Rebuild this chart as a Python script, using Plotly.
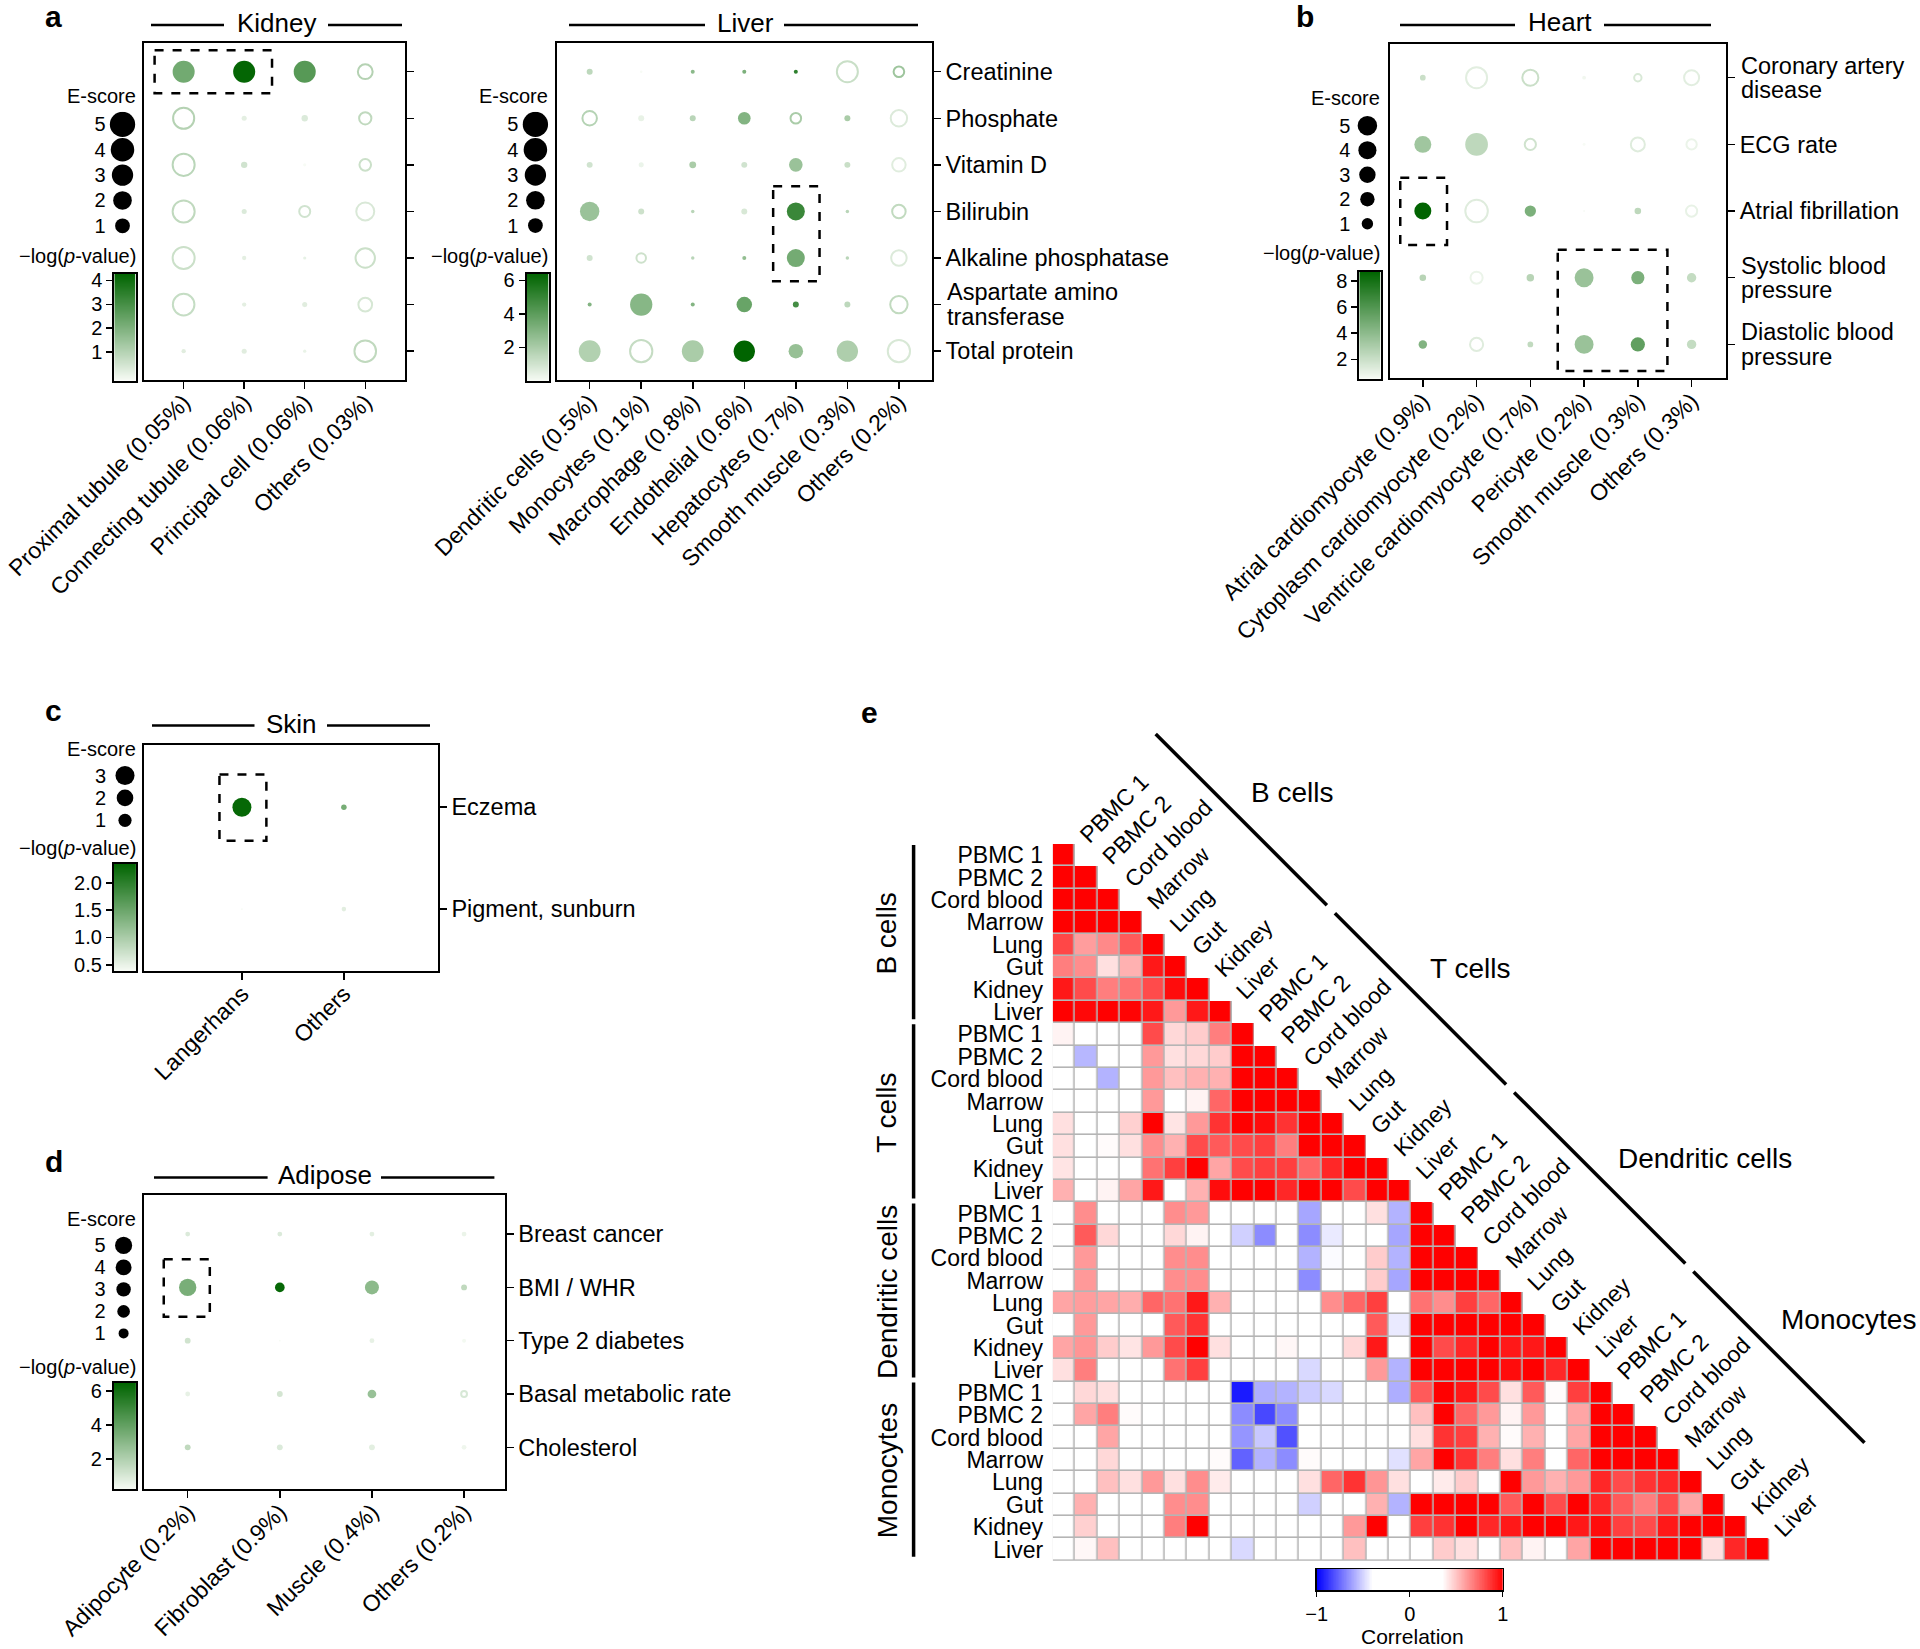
import numpy as np
import plotly.graph_objects as go

W, H = 1920, 1649
FONT = "Liberation Sans, Arial, Helvetica, sans-serif"

# ---------------- data: dot plots (E-score signed: negative = open ring) ----------------
KID_CELLS = ["Proximal tubule (0.05%)", "Connecting tubule (0.06%)", "Principal cell (0.06%)", "Others (0.03%)"]
LIV_CELLS = ["Dendritic cells (0.5%)", "Monocytes (0.1%)", "Macrophage (0.8%)", "Endothelial (0.6%)",
             "Hepatocytes (0.7%)", "Smooth muscle (0.3%)", "Others (0.2%)"]
LIV_TRAITS = ["Creatinine", "Phosphate", "Vitamin D", "Bilirubin", "Alkaline phosphatase",
              "Aspartate amino<br>transferase", "Total protein"]

KID_E = [
    [3.3, 3.3, 3.3, -1.0],
    [-2.9, 0.04, 0.08, -0.57],
    [-3.3, 0.08, 0.01, -0.48],
    [-3.3, 0.04, -0.41, -1.8],
    [-3.3, 0.025, 0.01, -2.25],
    [-3.1, 0.025, 0.04, -0.8],
    [0.025, 0.04, 0.01, -3.1],
]
KID_P = [
    [2.2, 4.2, 2.7, 1.0],
    [1.0, 0.15, 0.3, 0.8],
    [0.9, 0.5, -0.2, 0.6],
    [0.8, 0.3, 0.5, 0.35],
    [0.6, 0.15, 0.1, 0.6],
    [0.7, 0.15, 0.2, 0.4],
    [0.2, 0.2, 0.05, 0.8],
]
LIV_E = [
    [0.066, 0.005, 0.02, 0.02, 0.02, -2.86, -0.37],
    [-0.94, 0.066, 0.066, 0.62, -0.37, 0.066, -1.36],
    [0.066, 0.04, 0.1, 0.066, 0.78, 0.066, -0.76],
    [2.25, 0.066, 0.013, 0.066, 1.8, 0.013, -0.76],
    [0.066, -0.27, 0.013, 0.02, 1.8, 0.013, -1.15],
    [0.02, 3.42, 0.02, 1.15, 0.066, 0.066, -1.62],
    [3.2, -3.4, 3.2, 2.98, 0.94, 2.98, -3.4],
]
LIV_P = [
    [1.5, 0.0, 2.8, 3.2, 5.2, 1.2, 2.3],
    [1.7, 0.4, 1.6, 3.0, 2.0, 2.0, 0.7],
    [1.0, 0.3, 2.0, 1.0, 2.4, 1.2, 0.6],
    [2.4, 1.1, 1.6, 0.8, 4.9, 1.6, 1.4],
    [1.0, 1.1, 1.6, 2.6, 3.4, 1.6, 0.7],
    [3.0, 2.9, 3.0, 3.7, 4.6, 1.5, 1.4],
    [1.8, 1.3, 2.0, 6.4, 2.5, 1.9, 0.8],
]

HRT_CELLS = ["Atrial cardiomyocyte (0.9%)", "Cytoplasm cardiomyocyte (0.2%)", "Ventricle cardiomyocyte (0.7%)",
             "Pericyte (0.2%)", "Smooth muscle (0.3%)", "Others (0.3%)"]
HRT_TRAITS = ["Coronary artery<br>disease", "ECG rate", "Atrial fibrillation",
              "Systolic blood<br>pressure", "Diastolic blood<br>pressure"]
HRT_E = [
    [0.125, -6.3, -2.8, 0.037, -0.27, -2.3],
    [3.3, 7.9, -0.95, 0.018, -1.85, -0.74],
    [3.3, -7.7, 0.97, 0.005, 0.19, -0.95],
    [0.19, -1.22, 0.28, 4.55, 1.55, 0.56],
    [0.41, -1.52, 0.125, 4.55, 1.93, 0.56],
]
HRT_P = [
    [2.0, 1.2, 2.0, 0.7, 1.5, 1.2],
    [3.4, 2.4, 1.8, 0.5, 1.3, 0.9],
    [8.7, 1.3, 4.6, 0.5, 2.4, 1.0],
    [2.6, 0.9, 2.6, 3.6, 4.6, 2.2],
    [4.4, 1.3, 2.3, 3.6, 5.5, 2.2],
]

SKN_CELLS = ["Langerhans", "Others"]
SKN_TRAITS = ["Eczema", "Pigment, sunburn"]
SKN_E = [[2.98, 0.072], [0.003, 0.04]]
SKN_P = [[2.3, 1.4], [0.38, 0.55]]

ADI_CELLS = ["Adipocyte (0.2%)", "Fibroblast (0.9%)", "Muscle (0.4%)", "Others (0.2%)"]
ADI_TRAITS = ["Breast cancer", "BMI / WHR", "Type 2 diabetes", "Basal metabolic rate", "Cholesterol"]
ADI_E = [
    [0.11, 0.11, 0.11, 0.11],
    [5.2, 0.91, 2.74, 0.2],
    [0.2, 0.005, 0.11, 0.06],
    [0.11, 0.2, 0.66, -0.2],
    [0.2, 0.2, 0.2, 0.11],
]
ADI_P = [
    [0.9, 0.9, 0.7, 0.5],
    [3.4, 6.3, 2.9, 1.6],
    [1.2, 0.2, 0.6, 0.3],
    [0.6, 1.1, 2.6, 1.0],
    [1.6, 0.9, 0.7, 0.4],
]

# ---------------- data: correlation heatmap (lower triangle, row by row) ----------------
HM_GROUPS = ["B cells", "T cells", "Dendritic cells", "Monocytes"]
HM_TISSUES = ["PBMC 1", "PBMC 2", "Cord blood", "Marrow", "Lung", "Gut", "Kidney", "Liver"]
CORR = [
    [1.0],
    [1.0, 1.0],
    [1.0, 1.0, 1.0],
    [1.0, 1.0, 1.0, 1.0],
    [0.82, 0.60, 0.65, 0.77, 1.0],
    [0.68, 0.64, 0.43, 0.55, 0.94, 1.0],
    [0.94, 0.81, 0.68, 0.71, 0.81, 0.97, 1.0],
    [1.0, 0.98, 1.0, 0.99, 0.94, 0.61, 0.94, 1.0],
    [0.38, 0.1, 0.05, 0.08, 0.81, 0.45, 0.48, 0.68, 1.0],
    [0.12, -0.57, 0.1, 0.06, 0.61, 0.43, 0.45, 0.48, 1.0, 1.0],
    [0.08, 0.05, -0.58, 0.1, 0.61, 0.51, 0.55, 0.55, 1.0, 1.0, 1.0],
    [0.02, 0.05, 0.1, 0.08, 0.61, 0.2, 0.38, 0.74, 1.0, 1.0, 1.0, 1.0],
    [0.43, 0.1, 0.15, 0.47, 1.0, 0.42, 0.61, 0.87, 1.0, 0.97, 0.87, 1.0, 1.0],
    [0.43, 0.1, 0.36, 0.43, 0.64, 0.55, 0.81, 0.77, 0.81, 0.84, 0.68, 1.0, 1.0, 1.0],
    [0.42, 0.1, 0.05, 0.1, 0.71, 0.84, 1.0, 0.58, 0.81, 0.84, 0.84, 0.74, 0.9, 1.0, 1.0],
    [0.55, 0.1, 0.38, 0.58, 0.94, 0.1, 0.55, 0.97, 1.0, 1.0, 0.9, 1.0, 1.0, 0.81, 1.0, 1.0],
    [0.05, 0.64, 0.1, 0.05, 0.1, 0.64, 0.61, 0.1, 0.0, 0.05, 0.1, -0.61, 0.1, 0.05, 0.43, -0.58, 1.0],
    [0.05, 0.77, 0.45, 0.1, 0.05, 0.45, 0.38, 0.1, -0.51, -0.67, 0.0, -0.67, -0.45, 0.1, 0.05, -0.61, 1.0, 1.0],
    [0.05, 0.61, 0.1, 0.05, 0.1, 0.64, 0.64, 0.1, 0.05, 0.0, 0.1, -0.58, -0.41, 0.1, 0.48, -0.58, 1.0, 1.0, 1.0],
    [0.05, 0.61, 0.1, 0.05, 0.1, 0.64, 0.64, 0.1, 0.05, 0.0, 0.1, -0.67, 0.1, 0.05, 0.48, -0.61, 1.0, 1.0, 1.0, 1.0],
    [0.58, 0.6, 0.58, 0.56, 0.74, 0.71, 0.94, 0.55, 0.1, 0.05, 0.1, 0.0, 0.64, 0.74, 0.84, 0.1, 0.71, 0.64, 0.84, 0.74, 1.0],
    [0.05, 0.61, 0.1, 0.05, 0.1, 0.77, 0.87, 0.1, 0.05, 0.0, 0.1, 0.05, 0.1, 0.05, 0.77, -0.45, 1.0, 1.0, 1.0, 1.0, 1.0, 1.0],
    [0.58, 0.62, 0.48, 0.42, 0.61, 0.81, 1.0, 0.43, 0.05, 0.0, 0.37, 0.1, 0.05, 0.45, 0.94, 0.1, 1.0, 0.81, 0.9, 1.0, 0.94, 0.94, 1.0],
    [0.43, 0.68, 0.1, 0.05, 0.1, 0.71, 0.84, 0.1, 0.05, 0.0, 0.1, -0.49, 0.1, 0.05, 0.61, -0.58, 1.0, 1.0, 1.0, 1.0, 0.97, 1.0, 0.9, 1.0],
    [0.05, 0.45, 0.43, 0.1, 0.05, 0.1, 0.05, 0.0, -0.94, -0.59, -0.58, -0.52, -0.49, 0.1, 0.05, -0.59, 0.77, 1.0, 0.94, 0.81, 0.43, 0.77, 0.36, 0.84, 1.0],
    [0.05, 0.58, 0.68, 0.36, 0.1, 0.05, 0.1, 0.0, -0.67, -0.83, -0.67, 0.1, 0.05, 0.1, 0.0, 0.1, 0.51, 1.0, 0.74, 0.61, 0.38, 0.61, 0.1, 0.58, 1.0, 1.0],
    [0.05, 0.1, 0.58, 0.05, 0.1, 0.0, 0.05, 0.1, -0.65, -0.53, -0.81, 0.05, 0.1, 0.05, 0.0, 0.1, 0.43, 0.87, 0.84, 0.55, 0.36, 0.55, 0.05, 0.58, 1.0, 1.0, 1.0],
    [0.05, 0.1, 0.45, 0.05, 0.1, 0.0, 0.05, 0.36, -0.77, -0.58, -0.67, 0.36, 0.1, 0.05, 0.0, -0.47, 0.58, 1.0, 0.87, 0.68, 0.43, 0.68, 0.1, 0.74, 1.0, 1.0, 1.0, 1.0],
    [0.05, 0.1, 0.51, 0.43, 0.61, 0.43, 0.64, 0.4, 0.05, 0.0, 0.1, 0.43, 0.74, 0.87, 0.62, 0.43, 0.1, 0.4, 0.48, 0.05, 1.0, 0.61, 0.55, 0.61, 0.9, 0.81, 0.87, 0.9, 1.0],
    [0.05, 0.55, 0.1, 0.05, 0.1, 0.64, 0.64, 0.05, 0.1, 0.0, 0.05, -0.51, 0.1, 0.05, 0.55, -0.58, 1.0, 1.0, 1.0, 1.0, 0.77, 1.0, 0.81, 1.0, 0.9, 0.77, 0.68, 0.81, 0.58, 1.0],
    [0.05, 0.47, 0.1, 0.05, 0.1, 0.68, 1.0, 0.1, 0.05, 0.0, 0.1, 0.05, 0.1, 0.61, 1.0, 0.05, 0.84, 0.87, 1.0, 0.9, 0.94, 1.0, 1.0, 0.94, 0.97, 0.84, 0.81, 0.94, 1.0, 1.0, 1.0],
    [0.05, 0.37, 0.51, 0.1, 0.05, 0.0, 0.1, 0.05, -0.49, 0.1, 0.05, 0.0, 0.1, 0.51, 0.05, 0.1, 0.05, 0.48, 0.43, 0.1, 0.51, 0.38, 0.05, 0.58, 1.0, 1.0, 1.0, 1.0, 1.0, 0.43, 0.9, 1.0],
]
CB_TICKS = [-1, 0, 1]
CB_TEXT = ["\u22121", "0", "1"]

# ---------------- styles ----------------
GREEN = [[0, "#f7fbf5"], [1, "#006400"]]
RDBU = [[0, "#0000ff"], [0.3, "#ffffff"], [0.675, "#ffffff"], [1, "#ff0000"]]


def fx(px):
    return px / W


def fy(py):
    return 1 - py / H


fig = go.Figure()
layout = {}
annotations = []
shapes = []
count = [0]


def new_axes(x0, x1, y0, y1, xkw, ykw):
    count[0] += 1
    n = count[0]
    sx = "" if n == 1 else str(n)
    layout["xaxis" + sx] = dict(domain=[fx(x0), fx(x1)], anchor="y" + sx, automargin=False, **xkw)
    layout["yaxis" + sx] = dict(domain=[fy(y1), fy(y0)], anchor="x" + sx, automargin=False, **ykw)
    return "x" + sx, "y" + sx


def text(t, x, y, size=20, xa="center", ya="middle", angle=0, bold=False):
    if bold:
        t = "<b>" + t + "</b>"
    annotations.append(dict(text=t, x=fx(x), y=fy(y), xref="paper", yref="paper", showarrow=False,
                            xanchor=xa, yanchor=ya, textangle=angle, font=dict(size=size, family=FONT, color="black")))


def pline(x0, y0, x1, y1, w=2.5, dash=None):
    shapes.append(dict(type="line", xref="paper", yref="paper", x0=fx(x0), y0=fy(y0), x1=fx(x1), y1=fy(y1),
                       line=dict(color="black", width=w, dash=dash)))


def dot_panel(cells, traits, E, P, box, xrng, yrng, crng, d1, ylabels=True):
    x0, x1, y0, y1 = box
    base = dict(showline=True, linewidth=2, linecolor="black", mirror=True, showgrid=False, zeroline=False,
                ticks="outside", ticklen=7, tickwidth=1.5, tickcolor="black")
    # multi-line trait names are written as separate lines (tighter line spacing)
    ticktext = [("" if "<br>" in t else t) if ylabels else "" for t in traits]
    xr, yr = new_axes(x0, x1, y0, y1,
                      dict(type="category", categoryorder="array", categoryarray=cells, range=xrng,
                           tickangle=-45, tickfont=dict(size=23), ticklabelstandoff=-9, **base),
                      dict(type="category", categoryorder="array", categoryarray=traits, range=yrng,
                           tickvals=traits, ticktext=ticktext,
                           side="right", tickfont=dict(size=23.5), **base))
    if ylabels:
        for i, t in enumerate(traits):
            if "<br>" in t:
                parts = t.split("<br>")
                for k, part in enumerate(parts):
                    annotations.append(dict(text=part, xref=xr + " domain", yref=yr, x=1, y=i,
                                            xanchor="left", yanchor="middle", xshift=13,
                                            yshift=12.2 * (len(parts) - 1) - 24.4 * k, showarrow=False,
                                            font=dict(size=23.5, family=FONT, color="black")))
    xs, ys, sz, col, sym, lw = [], [], [], [], [], []
    for i, t in enumerate(traits):
        for j, c in enumerate(cells):
            e = E[i][j]
            xs.append(c)
            ys.append(t)
            sz.append(d1 * abs(e) ** (1 / 3))
            col.append(P[i][j])
            sym.append("circle" if e > 0 else "circle-open")
            lw.append(0 if e > 0 else 2)
    fig.add_trace(go.Scatter(x=xs, y=ys, mode="markers", xaxis=xr, yaxis=yr, showlegend=False, hoverinfo="skip",
                             marker=dict(size=sz, color=col, colorscale=GREEN, cmin=crng[0], cmax=crng[1],
                                         symbol=sym, line=dict(width=lw), opacity=1)))
    return xr, yr


def escore_legend(vals, xc, ytop, ybot, d1, halfw=16):
    step = (ybot - ytop) / (max(vals) - min(vals))
    xr, yr = new_axes(xc - halfw, xc + halfw, ytop - step / 2, ybot + step / 2,
                      dict(range=[-1, 1], visible=False),
                      dict(range=[min(vals) - 0.5, max(vals) + 0.5], tickvals=vals, ticks="", showline=False,
                           showgrid=False, zeroline=False, tickfont=dict(size=20)))
    fig.add_trace(go.Scatter(x=[0] * len(vals), y=vals, mode="markers", xaxis=xr, yaxis=yr, showlegend=False,
                             hoverinfo="skip",
                             marker=dict(size=[d1 * v ** (1 / 3) for v in vals], color="#000000", opacity=1,
                                         line=dict(width=0))))


def green_bar(box, crng, tickvals, ticktext=None):
    x0, x1, y0, y1 = box
    ykw = dict(range=crng, tickvals=tickvals, ticks="outside", ticklen=6, tickwidth=1.5, tickcolor="black",
               showline=True, mirror=True, linewidth=2, linecolor="black", showgrid=False, zeroline=False,
               tickfont=dict(size=20))
    if ticktext:
        ykw["ticktext"] = ticktext
    xr, yr = new_axes(x0, x1, y0, y1,
                      dict(range=[-0.5, 0.5], showticklabels=False, ticks="", showline=True, mirror=True,
                           linewidth=2, linecolor="black", showgrid=False, zeroline=False), ykw)
    ramp = np.linspace(crng[0], crng[1], 200)
    fig.add_trace(go.Heatmap(z=[[v] for v in ramp], y=ramp, x=[0], colorscale=GREEN, zmin=crng[0], zmax=crng[1],
                             showscale=False, xaxis=xr, yaxis=yr, hoverinfo="skip"))


def dash_box(xr, yr, x0, x1, y0, y1):
    shapes.append(dict(type="rect", xref=xr, yref=yr, x0=x0, x1=x1, y0=y0, y1=y1,
                       line=dict(color="black", width=2.5, dash="dash")))


def panel_title(t, cx, cy, a0, a1, b0, b1, ly):
    text(t, cx, cy, size=26)
    pline(a0, ly, a1, ly)
    pline(b0, ly, b1, ly)


# ---------------- panel a: Kidney ----------------
text("a", 53, 17, size=30, bold=True)
panel_title("Kidney", 277, 23, 151, 224, 328, 402, 25)
xr, yr = dot_panel(KID_CELLS, LIV_TRAITS, KID_E, KID_P, (144.3, 404.6, 43.3, 379.6),
                   [-0.65, 3.65], [6.61, -0.61], [-0.2, 4.27], 14.8, ylabels=False)
dash_box(xr, yr, -0.48, 1.46, -0.46, 0.46)
text("E-score", 137.5, 96, xa="right")
escore_legend([5, 4, 3, 2, 1], 122.5, 124.4, 225.8, 14.8)
text("\u2212log(<i>p</i>-value)", 137.5, 255.5, xa="right")
green_bar((114.3, 135.7, 274, 380.8), [-0.2, 4.27], [1, 2, 3, 4])

# ---------------- panel a: Liver ----------------
panel_title("Liver", 745, 23, 569, 705, 784, 918, 25)
xr, yr = dot_panel(LIV_CELLS, LIV_TRAITS, LIV_E, LIV_P, (557.2, 931.9, 43.3, 379.6),
                   [-0.63, 6.64], [6.61, -0.61], [0, 6.4], 14.8)
dash_box(xr, yr, 3.56, 4.46, 2.46, 4.5)
text("E-score", 550, 96, xa="right")
escore_legend([5, 4, 3, 2, 1], 535.4, 124.4, 225.6, 14.8)
text("\u2212log(<i>p</i>-value)", 550, 255.5, xa="right")
green_bar((526.6, 548.5, 273.6, 381), [0, 6.4], [2, 4, 6])

# ---------------- panel b: Heart ----------------
text("b", 1305, 17, size=30, bold=True)
panel_title("Heart", 1560, 22.5, 1400, 1515, 1604, 1711, 25)
xr, yr = dot_panel(HRT_CELLS, HRT_TRAITS, HRT_E, HRT_P, (1389.5, 1726, 43.7, 378.4),
                   [-0.62, 5.64], [4.51, -0.51], [0.5, 8.72], 11.4)
dash_box(xr, yr, -0.42, 0.45, 1.5, 2.51)
dash_box(xr, yr, 2.51, 4.55, 2.58, 4.4)
text("E-score", 1382, 98.4, xa="right")
escore_legend([5, 4, 3, 2, 1], 1367.4, 125.7, 223.7, 11.4)
text("\u2212log(<i>p</i>-value)", 1382, 253, xa="right")
green_bar((1359.3, 1380.6, 271.8, 378.8), [0.5, 8.72], [2, 4, 6, 8])

# ---------------- panel c: Skin ----------------
text("c", 53, 710, size=30, bold=True)
panel_title("Skin", 291, 723.5, 152, 254.5, 327, 430, 725.5)
xr, yr = dot_panel(SKN_CELLS, SKN_TRAITS, SKN_E, SKN_P, (144, 437.7, 745, 971.3),
                   [-0.96, 1.92], [1.61, -0.61], [0.38, 2.35], 13.2)
dash_box(xr, yr, -0.22, 0.24, -0.32, 0.33)
text("E-score", 138, 749.3, xa="right")
escore_legend([3, 2, 1], 125, 775.6, 820.3, 13.2, halfw=18)
text("\u2212log(<i>p</i>-value)", 137.5, 848, xa="right")
green_bar((113.9, 136.2, 863.7, 971.3), [0.38, 2.35], [0.5, 1.0, 1.5, 2.0], ["0.5", "1.0", "1.5", "2.0"])

# ---------------- panel d: Adipose ----------------
text("d", 54, 1161, size=30, bold=True)
panel_title("Adipose", 325, 1175, 154, 267.6, 381, 494.4, 1177.5)
xr, yr = dot_panel(ADI_CELLS, ADI_TRAITS, ADI_E, ADI_P, (144.4, 504.6, 1195.2, 1489.4),
                   [-0.47, 3.44], [4.79, -0.73], [0.2, 6.47], 10)
dash_box(xr, yr, -0.26, 0.24, 0.47, 1.55)
text("E-score", 138, 1219, xa="right")
escore_legend([5, 4, 3, 2, 1], 123.6, 1245.4, 1333.4, 10, halfw=17)
text("\u2212log(<i>p</i>-value)", 137.5, 1367, xa="right")
green_bar((113.9, 136.2, 1383, 1489.4), [0.2, 6.47], [2, 4, 6])

# ---------------- panel e: correlation heatmap ----------------
text("e", 869, 712, size=30, bold=True)
labels = HM_TISSUES * len(HM_GROUPS)
N = len(labels)
Z = [[None] * N for _ in range(N)]
MASK = [[None] * N for _ in range(N)]
for i, row in enumerate(CORR):
    for j, v in enumerate(row):
        Z[i][j] = v
        MASK[i][j] = 1
HX0, HX1, HY0, HY1 = 1052.7, 1769.5, 844, 1560.8
xr, yr = new_axes(HX0, HX1, HY0, HY1,
                  dict(range=[-0.5, N - 0.5], visible=False),
                  dict(range=[N - 0.5, -0.5], tickvals=list(range(N)), ticktext=labels, ticks="outside",
                       ticklen=4, tickcolor="rgba(0,0,0,0)", showline=False, showgrid=False, zeroline=False,
                       tickfont=dict(size=23)))
fig.add_trace(go.Heatmap(z=MASK, colorscale=[[0, "#b5b5b5"], [1, "#b5b5b5"]], showscale=False,
                         xaxis=xr, yaxis=yr, hoverinfo="skip"))
fig.add_trace(go.Heatmap(z=Z, colorscale=RDBU, zmin=-1, zmax=1, showscale=False, xgap=1.6, ygap=1.6,
                         xaxis=xr, yaxis=yr, hoverinfo="skip"))
for i, lab in enumerate(labels):
    annotations.append(dict(text=lab, x=i + 0.35, y=i - 0.22, xref=xr, yref=yr, showarrow=False,
                            xanchor="left", yanchor="bottom", textangle=-45,
                            font=dict(size=23, family=FONT, color="black")))
cell = (HY1 - HY0) / N
for g, name in enumerate(HM_GROUPS):
    gt = HY0 + g * 8 * cell
    gb = gt + 8 * cell
    pline(913.6, gt + 1, 913.6, gb - 4, w=3.5)
    text(name, 887, (gt + gb) / 2, size=28, angle=-90)
    # diagonal group line segment (parallel to the diagonal)
    sx0 = HX0 + g * 8 * cell + 103
    sx1 = HX0 + (g + 1) * 8 * cell + 95
    pline(sx0, sx0 - 421.7, sx1, sx1 - 421.7, w=3.5)
for name, (gx, gy) in zip(HM_GROUPS, [(1292, 792), (1470, 968), (1705, 1158), (1848, 1319)]):
    text(name, gx, gy, size=28)

# correlation colour bar
xr, yr = new_axes(1316.7, 1502.7, 1569, 1590,
                  dict(range=[-1, 1], tickvals=CB_TICKS, ticktext=CB_TEXT, ticks="outside", ticklen=5,
                       tickwidth=1.5, tickcolor="black", showline=True, mirror=True, linewidth=1.5,
                       linecolor="black", showgrid=False, zeroline=False, tickfont=dict(size=20)),
                  dict(range=[-0.5, 0.5], showticklabels=False, ticks="", showline=True, mirror=True,
                       linewidth=1.5, linecolor="black", showgrid=False, zeroline=False))
cbr = np.linspace(-1, 1, 301)
fig.add_trace(go.Heatmap(z=[cbr], x=cbr, y=[0], colorscale=RDBU, zmin=-1, zmax=1, showscale=False,
                         xaxis=xr, yaxis=yr, hoverinfo="skip"))
text("Correlation", 1412, 1636, size=21)

fig.update_layout(width=W, height=H, margin=dict(l=0, r=0, t=0, b=0), paper_bgcolor="white",
                  plot_bgcolor="rgba(0,0,0,0)", font=dict(family=FONT, color="black", size=20),
                  showlegend=False, annotations=annotations, shapes=shapes, **layout)
fig.write_html("out.html", config={"displayModeBar": False, "staticPlot": True},
               post_script="document.body.style.margin='0';document.body.style.padding='0';"
                           "document.body.style.overflow='hidden';")
